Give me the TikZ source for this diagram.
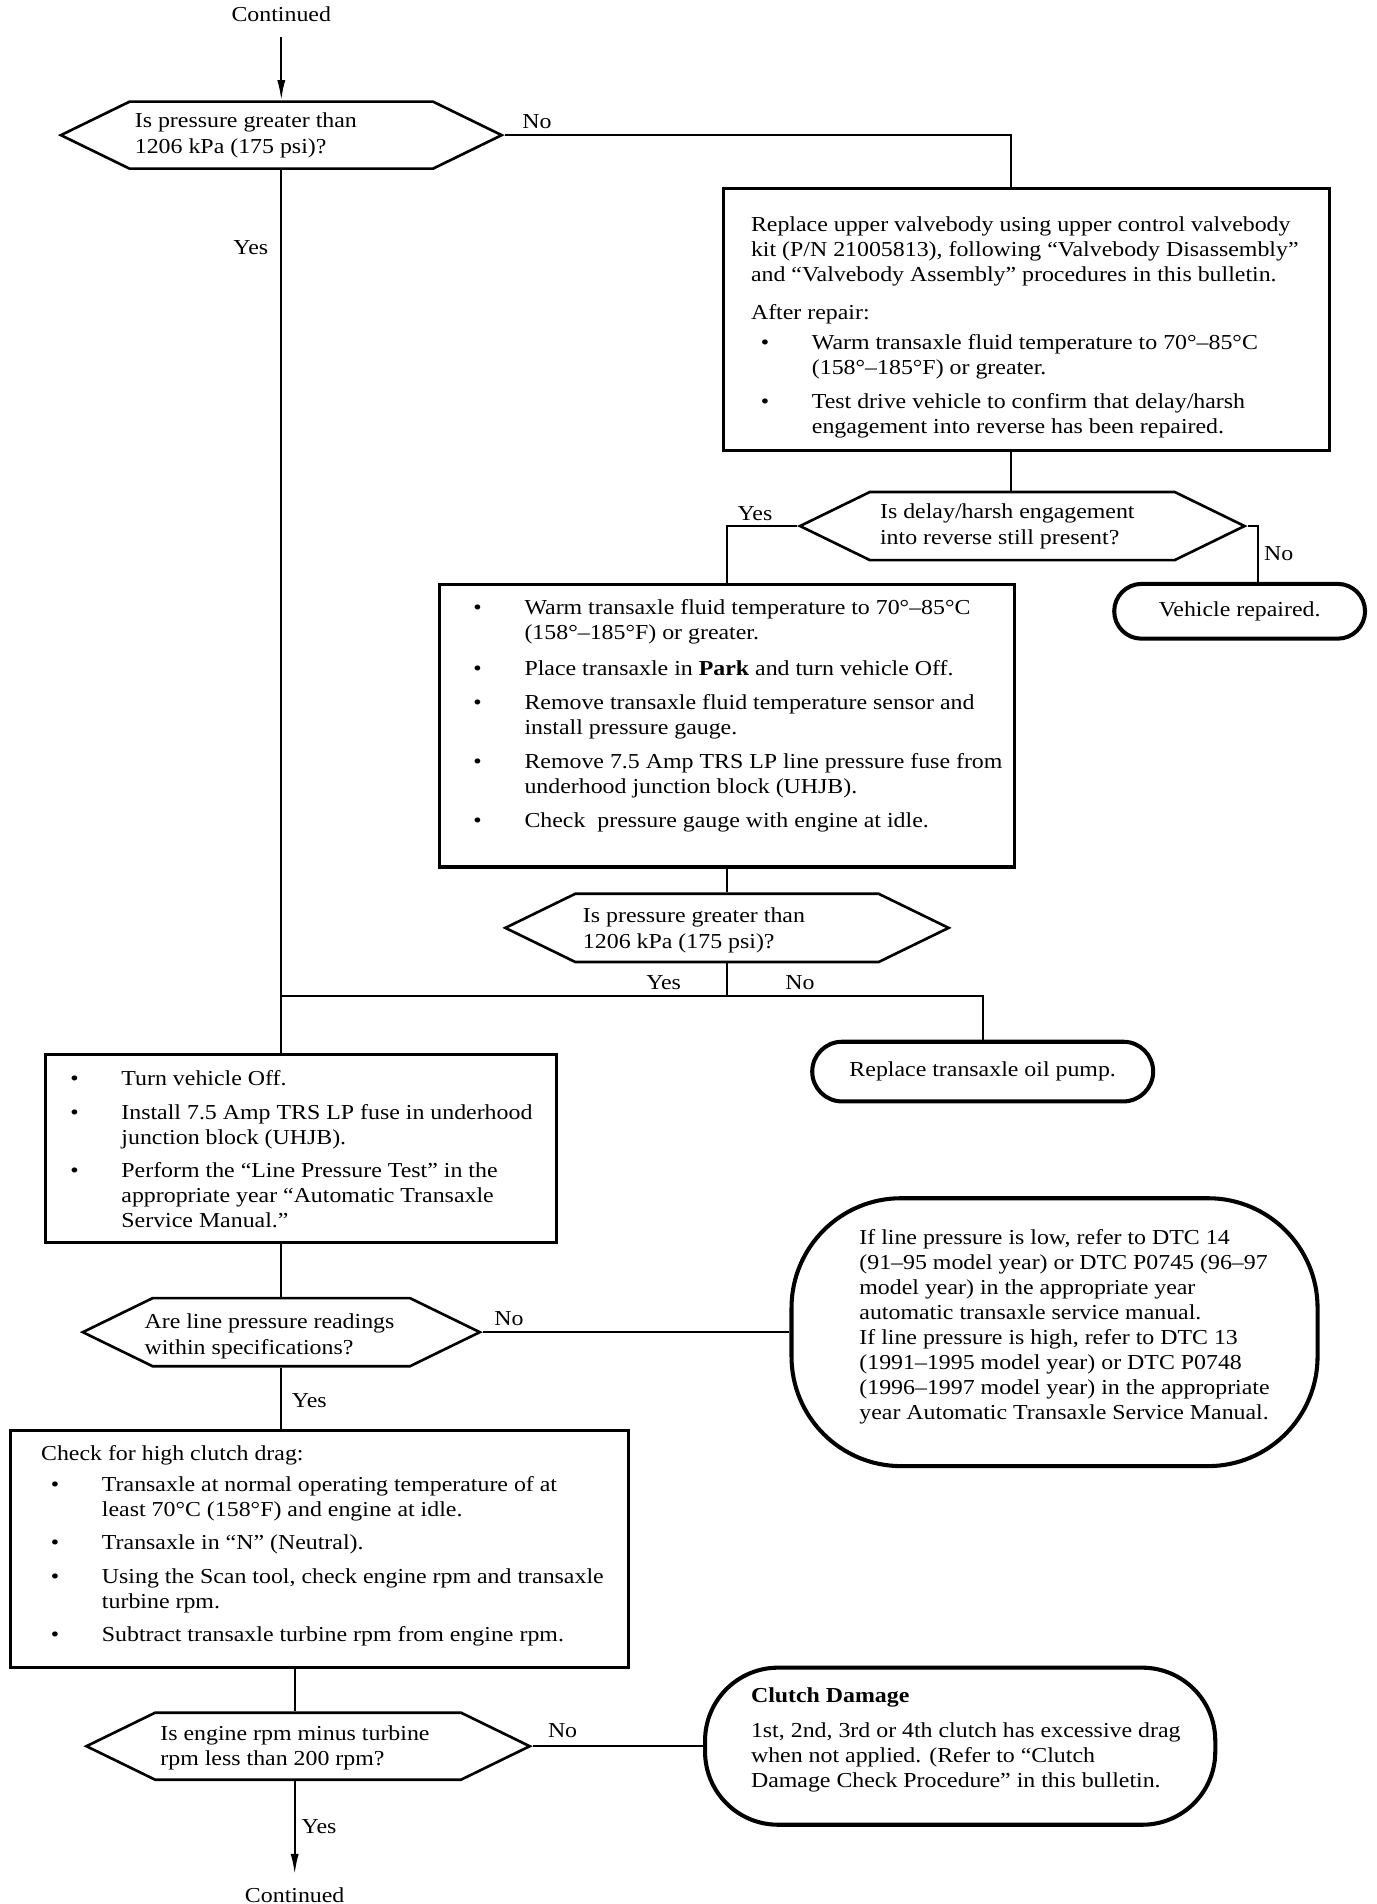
\documentclass[tikz,border=0pt]{standalone}
\usepackage{fontspec}
\setmainfont{Liberation Serif}[FakeStretch=1.12]
\usetikzlibrary{shapes.symbols,arrows.meta}

\tikzset{every picture/.style={line width=0.9pt}}
\tikzset{
	txt/.style={anchor=west, align=left, inner sep=0pt, font=\fontsize{10.5}{12.3}\selectfont},
	dtxt/.style={txt, font=\fontsize{10.5}{12.6}\selectfont},
	lbl/.style={inner sep=0pt, font=\fontsize{10.5}{12.3}\selectfont},
	procbox/.style={draw, line width=1.5pt, rectangle, inner sep=0pt},
	decision/.style={draw, line width=1.3pt, signal, signal to=east and west, signal pointer angle=52, inner sep=0pt},
	termbox/.style={draw, line width=2pt, rectangle, inner sep=0pt, font=\fontsize{10.5}{12.3}\selectfont},
	conn/.style={line width=1pt},
	flowarrow/.style={conn, -{Latex[length=10pt,width=4pt]}}
}
\newcommand{\bitem}{\makebox[30pt][l]{\hspace*{4.8pt}\textbullet}}
\newcommand{\bnext}{\hspace*{30pt}}

\begin{document}
\begin{tikzpicture}[x=0.6pt,y=0.6pt,yscale=-1,xscale=1]
	\useasboundingbox (0,0) rectangle (1130,1563.6);

	% Text Node
	\node[lbl] (cont1) at (231,12) {Continued};

	%Shape: Decision [id:d1]
	\node[decision, minimum width=217.2pt, minimum height=33pt] (d1) at (231,111) {};
	% Text Node
	\node[dtxt] (d1t) at (110,111) {Is pressure greater than\\1206 kPa (175 psi)?};

	%Shape: Rectangle [id:b1]
	\node[procbox, minimum width=298.8pt, minimum height=129pt] (b1) at (843,262.5) {};
	% Text Node
	\node[txt] (b1t) at (616,269) {Replace upper valvebody using upper control valvebody\\
		kit (P/N 21005813), following “Valvebody Disassembly”\\
		and “Valvebody Assembly” procedures in this bulletin.\\[6.3pt]
		After repair:\\[2.7pt]
		\bitem Warm transaxle fluid temperature to 70°–85°C\\
		\bnext (158°–185°F) or greater.\\[4.5pt]
		\bitem Test drive vehicle to confirm that delay/harsh\\
		\bnext engagement into reverse has been repaired.};

	%Shape: Decision [id:d2]
	\node[decision, minimum width=219pt, minimum height=33.6pt] (d2) at (839.5,432) {};
	% Text Node
	\node[dtxt] (d2t) at (722,432.5) {Is delay/harsh engagement\\into reverse still present?};

	%Shape: Terminal [id:rep1]
	\node[termbox, rounded corners=13.5pt, minimum width=123.6pt, minimum height=27pt] (rep1) at (1018,502) {Vehicle repaired.};

	%Shape: Rectangle [id:b2]
	\node[procbox, minimum width=283.2pt, minimum height=139.2pt] (b2) at (597,596) {};
	% Text Node
	\node[txt] (b2t) at (380,588) {\bitem Warm transaxle fluid temperature to 70°–85°C\\
		\bnext (158°–185°F) or greater.\\[5.1pt]
		\bitem Place transaxle in \textbf{Park} and turn vehicle Off.\\[4.5pt]
		\bitem Remove transaxle fluid temperature sensor and\\
		\bnext install pressure gauge.\\[4.5pt]
		\bitem Remove 7.5 Amp TRS LP line pressure fuse from\\
		\bnext underhood junction block (UHJB).\\[4.5pt]
		\bitem Check\ \ pressure gauge with engine at idle.};

	%Shape: Decision [id:d3]
	\node[decision, minimum width=218.4pt, minimum height=33.6pt] (d3) at (597,762) {};
	% Text Node
	\node[dtxt] (d3t) at (478,764) {Is pressure greater than\\1206 kPa (175 psi)?};
	\coordinate (j1) at (597,818);

	%Shape: Terminal [id:pump]
	\node[termbox, rounded corners=14.7pt, minimum width=168pt, minimum height=29.4pt] (pump) at (807,880) {Replace transaxle oil pump.};

	%Shape: Rectangle [id:b3]
	\node[procbox, minimum width=252pt, minimum height=92.4pt] (b3) at (247,943) {};
	% Text Node
	\node[txt] (b3t) at (49,943.5) {\bitem Turn vehicle Off.\\[4.5pt]
		\bitem Install 7.5 Amp TRS LP fuse in underhood\\
		\bnext junction block (UHJB).\\[4pt]
		\bitem Perform the “Line Pressure Test” in the\\
		\bnext appropriate year “Automatic Transaxle\\
		\bnext Service Manual.”};

	%Shape: Decision [id:d4]
	\node[decision, minimum width=195.6pt, minimum height=33.6pt] (d4) at (231,1094) {};
	% Text Node
	\node[dtxt] (d4t) at (118,1097.5) {Are line pressure readings\\within specifications?};

	%Shape: Rounded Rectangle [id:dtc]
	\node[termbox, rounded corners=54pt, minimum width=259.2pt, minimum height=132pt] (dtc) at (866,1094) {};
	% Text Node
	\node[txt] (dtct) at (705,1089.5) {If line pressure is low, refer to DTC 14\\
		(91–95 model year) or DTC P0745 (96–97\\
		model year) in the appropriate year\\
		automatic transaxle service manual.\\
		If line pressure is high, refer to DTC 13\\
		(1991–1995 model year) or DTC P0748\\
		(1996–1997 model year) in the appropriate\\
		year Automatic Transaxle Service Manual.};

	%Shape: Rectangle [id:b4]
	\node[procbox, minimum width=304.2pt, minimum height=116.4pt] (b4) at (262.5,1272) {};
	% Text Node
	\node[txt] (b4t) at (33,1269.5) {Check for high clutch drag:\\[2.7pt]
		\bitem Transaxle at normal operating temperature of at\\
		\bnext least 70°C (158°F) and engine at idle.\\[4pt]
		\bitem Transaxle in “N” (Neutral).\\[4.5pt]
		\bitem Using the Scan tool, check engine rpm and transaxle\\
		\bnext turbine rpm.\\[4pt]
		\bitem Subtract transaxle turbine rpm from engine rpm.};
	\coordinate (colB) at (242,1380);

	%Shape: Decision [id:d5]
	\node[decision, minimum width=218.4pt, minimum height=33pt] (d5) at (253,1434) {};
	% Text Node
	\node[dtxt] (d5t) at (131,1435.5) {Is engine rpm minus turbine\\rpm less than 200 rpm?};

	%Shape: Rounded Rectangle [id:clutch]
	\node[termbox, rounded corners=36pt, minimum width=251.4pt, minimum height=77.4pt] (clutch) at (788.5,1434) {};
	% Text Node
	\node[txt] (clutcht) at (616,1428.5) {\textbf{Clutch Damage}\\[5pt]
		1st, 2nd, 3rd or 4th clutch has excessive drag\\
		when not applied. (Refer to “Clutch\\
		Damage Check Procedure” in this bulletin.};

	% Text Node
	\node[lbl] (cont2) at (242,1556) {Continued};

	\coordinate (colC) at (830,0);
	\coordinate (colF) at (1033,0);

	% Connectors
	\draw[flowarrow, shorten <=7pt] (cont1) -- (d1.north);
	\draw[conn] (d1.east) -| (b1.north -| colC);
	\draw[conn] (d1.south) -- (d1.south |- b3.north);
	\draw[conn] (b1.south -| colC) -- (d2.north -| colC);
	\draw[conn] (d2.west) -| (b2.north);
	\draw[conn] (d2.east) -| (rep1.north -| colF);
	\draw[conn] (b2) -- (d3);
	\draw[conn] (d3.south) -- (j1);
	\draw[conn] (j1) -- (j1 -| d1.south);
	\draw[conn] (j1) -| (pump.north);
	\draw[conn] (b3.south -| d4.north) -- (d4.north);
	\draw[conn] (d4.east) -- (dtc.west);
	\draw[conn] (d4.south) -- (d4.south |- b4.north);
	\draw[conn] (b4.south -| colB) -- (d5.north -| colB);
	\draw[conn] (d5.east) -- (clutch.west);
	\draw[flowarrow, shorten >=6pt] (d5.south -| colB) -- (cont2.north);

	% Text Node
	\node[lbl] (no1) at (441,100) {No};
	\node[lbl] (yes1) at (206,203) {Yes};
	\node[lbl] (yes2) at (620,422) {Yes};
	\node[lbl] (no2) at (1050,455) {No};
	\node[lbl] (yes3) at (545,807) {Yes};
	\node[lbl] (no3) at (657,807) {No};
	\node[lbl] (no4) at (418,1083) {No};
	\node[lbl] (yes4) at (254,1150) {Yes};
	\node[lbl] (no5) at (462,1421) {No};
	\node[lbl] (yes5) at (262,1500) {Yes};

\end{tikzpicture}
\end{document}
